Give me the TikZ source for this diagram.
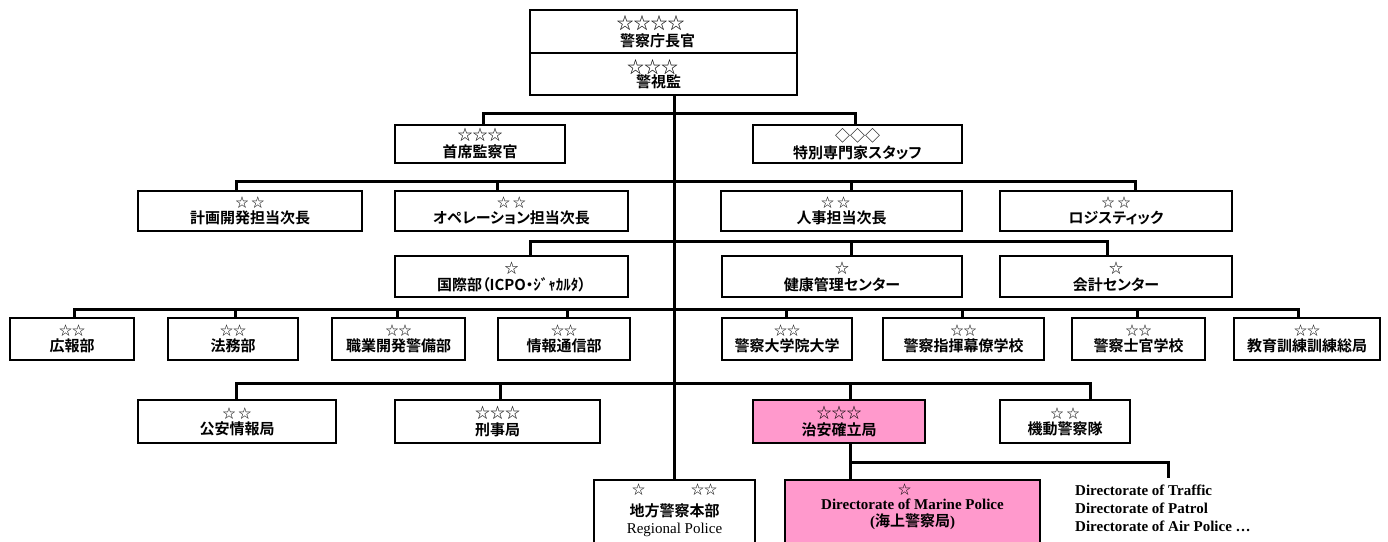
\documentclass[tikz,border=0pt]{standalone}
\usepackage{fontspec}
\usetikzlibrary{shadows}
\setmainfont{Liberation Serif}
\newfontfamily\jpf{Noto Sans CJK JP}[UprightFont=* Bold,RawFeature=+palt]
\newfontfamily\stf{Noto Sans CJK JP}
\definecolor{orgpink}{RGB}{255,153,204}
\newcommand\stars[2][13]{{\stf\fontsize{#1}{#1}\selectfont #2}}
\newcommand\lab[3][13]{\stars[#1]{#2}\\{\jpf #3}}
\newcommand\orgbox[7]{\node[box,#6,minimum width={#4pt-#2pt},minimum height={#5pt-#3pt}] (#1) at ({(#2+#4)/2},{(#3+#5)/2}) {#7};}
\begin{document}
\begin{tikzpicture}[x=1pt,y=-1pt,
  box/.style={draw=black,line width=1.8pt,fill=white,inner sep=0pt,align=center,
    font=\fontsize{15}{16}\selectfont,
    drop shadow={shadow xshift=1.2pt,shadow yshift=-1.2pt,fill=black,opacity=1}},
  pinkfill/.style={fill=orgpink},
  conn/.style={line width=3pt},
  txt/.style={inner sep=0pt,align=center,font=\fontsize{15}{17}\selectfont}]
\useasboundingbox (0,0) rectangle (1388,541);
\clip (0,0) rectangle (1388,541);

% ---------- boxes ----------
\orgbox{top1}{530}{10}{797}{53}{font=\fontsize{15}{17}\selectfont}{\lab[17]{☆☆☆☆\hspace*{26pt}}{警察庁長官\hspace*{12pt}}}
\orgbox{top2}{530}{53}{797}{95}{font=\fontsize{15}{14}\selectfont}{\lab[17]{☆☆☆\hspace*{22pt}}{警視監\hspace*{10pt}}}

\orgbox{r1a}{395}{125}{565}{163}{font=\fontsize{15}{17}\selectfont}{\lab[15]{☆☆☆}{首席監察官}}
\orgbox{r1b}{753}{125}{962}{163}{font=\fontsize{15}{17}\selectfont}{\lab[15]{◇◇◇}{特別専門家スタッフ}}

\orgbox{r2a}{138}{191}{362}{231}{}{\lab{☆\hspace{3pt}☆}{計画開発担当次長}}
\orgbox{r2b}{395}{191}{628}{231}{}{\lab{☆\hspace{3pt}☆}{オペレーション担当次長}}
\orgbox{r2c}{721}{191}{962}{231}{}{\lab{☆\hspace{3pt}☆\hspace*{12pt}}{人事担当次長}}
\orgbox{r2d}{1000}{191}{1232}{231}{}{\lab{☆\hspace{3pt}☆}{ロジスティック}}

\orgbox{r3a}{395}{256}{628}{297}{font=\fontsize{15}{17}\selectfont}{\lab[14]{☆}{国際部（ICPO・ｼﾞｬｶﾙﾀ）}}
\orgbox{r3b}{722}{256}{962}{297}{font=\fontsize{15}{17}\selectfont}{\lab[14]{☆}{健康管理センター}}
\orgbox{r3c}{1000}{256}{1232}{297}{font=\fontsize{15}{17}\selectfont}{\lab[14]{☆}{会計センター}}

\orgbox{r4a}{10}{318}{134}{360}{}{\lab{☆☆}{広報部}}
\orgbox{r4b}{168}{318}{298}{360}{}{\lab{☆☆}{法務部}}
\orgbox{r4c}{332}{318}{465}{360}{}{\lab{☆☆}{職業開発警備部}}
\orgbox{r4d}{498}{318}{630}{360}{}{\lab{☆☆}{情報通信部}}
\orgbox{r4e}{722}{318}{852}{360}{}{\lab{☆☆}{警察大学院大学}}
\orgbox{r4f}{883}{318}{1044}{360}{}{\lab{☆☆}{警察指揮幕僚学校}}
\orgbox{r4g}{1072}{318}{1205}{360}{}{\lab{☆☆}{警察士官学校}}
\orgbox{r4h}{1234}{318}{1380}{360}{}{\lab{☆☆}{教育訓練訓練総局}}

\orgbox{r5a}{138}{400}{336}{443}{}{\lab{☆\hspace{3pt}☆}{公安情報局}}
\orgbox{r5b}{395}{400}{600}{443}{font=\fontsize{15}{17}\selectfont}{\lab[15]{☆☆☆}{刑事局}}
\orgbox{r5c}{753}{400}{925}{443}{pinkfill,font=\fontsize{15}{17}\selectfont}{\lab[15]{☆☆☆}{治安確立局}}
\orgbox{r5d}{1000}{400}{1130}{443}{}{\lab{☆\hspace{3pt}☆}{機動警察隊}}

\orgbox{r6a}{594}{480}{755}{552}{}{}
\orgbox{r6b}{785}{480}{1040}{552}{pinkfill}{}

\node[txt,anchor=north] (r6a-t) at ([yshift=-5pt]r6a.north)
  {\stars{☆\hspace{46pt}☆☆}\\[5pt]{\jpf 地方警察本部}\\Regional Police};
\node[txt,anchor=north,font=\fontsize{15}{15}\selectfont] (r6b-t) at ([yshift=-5pt]r6b.north)
  {\stars{☆\hspace*{16pt}}\\{\bfseries Directorate of Marine Police}\\[2pt]{\bfseries(}{\jpf 海上警察局}{\bfseries)}};
\node[inner sep=0pt,anchor=north west,align=left,font=\bfseries\fontsize{15}{18}\selectfont] (others) at (1075,485)
  {Directorate of Traffic\\Directorate of Patrol\\Directorate of Air Police …};

% ---------- connectors ----------
\draw[conn] (r6a.north |- top2.south) -- (r6a.north);

\coordinate (r1a-d) at (483,113);
\coordinate (r1b-d) at (855,113);
\draw[conn] (r1a-d |- r1a.north) -- (r1a-d) -- (r1b-d) -- (r1b-d |- r1b.north);

\coordinate (r2a-d) at (236,181);
\coordinate (r2b-d) at (497,181);
\coordinate (r2c-d) at (851,181);
\coordinate (r2d-d) at (1135,181);
\draw[conn] (r2a-d |- r2a.north) -- (r2a-d) -- (r2d-d) -- (r2d-d |- r2d.north);
\draw[conn] (r2b-d) -- (r2b-d |- r2b.north);
\draw[conn] (r2c-d) -- (r2c-d |- r2c.north);

\coordinate (r3a-d) at (530,241);
\coordinate (r3b-d) at (851,241);
\coordinate (r3c-d) at (1107,241);
\draw[conn] (r3a-d |- r3a.north) -- (r3a-d) -- (r3c-d) -- (r3c-d |- r3c.north);
\draw[conn] (r3b-d) -- (r3b-d |- r3b.north);

\coordinate (r4a-d) at (74,309);
\coordinate (r4b-d) at (235,309);
\coordinate (r4c-d) at (397,309);
\coordinate (r4d-d) at (567,309);
\coordinate (r4e-d) at (786,309);
\coordinate (r4f-d) at (962,309);
\coordinate (r4g-d) at (1137,309);
\coordinate (r4h-d) at (1298,309);
\draw[conn] (r4a-d |- r4a.north) -- (r4a-d) -- (r4h-d) -- (r4h-d |- r4h.north);
\foreach \n in {r4b,r4c,r4d,r4e,r4f,r4g}
  \draw[conn] (\n-d) -- (\n-d |- \n.north);

\coordinate (r5a-d) at (236,383);
\coordinate (r5b-d) at (500,383);
\coordinate (r5c-d) at (850,383);
\coordinate (r5d-d) at (1090,383);
\draw[conn] (r5a-d |- r5a.north) -- (r5a-d) -- (r5d-d) -- (r5d-d |- r5d.north);
\draw[conn] (r5b-d) -- (r5b-d |- r5b.north);
\draw[conn] (r5c-d) -- (r5c-d |- r5c.north);

\coordinate (r6-bus) at (850,462);
\coordinate (r6-end) at (1168,462);
\coordinate (r6-stub) at (1168,478);
\draw[conn] (r5c-d |- r5c.south) -- (r5c-d |- r6b.north);
\draw[conn] (r6-bus) -- (r6-end) -- (r6-stub);
\end{tikzpicture}
\end{document}
